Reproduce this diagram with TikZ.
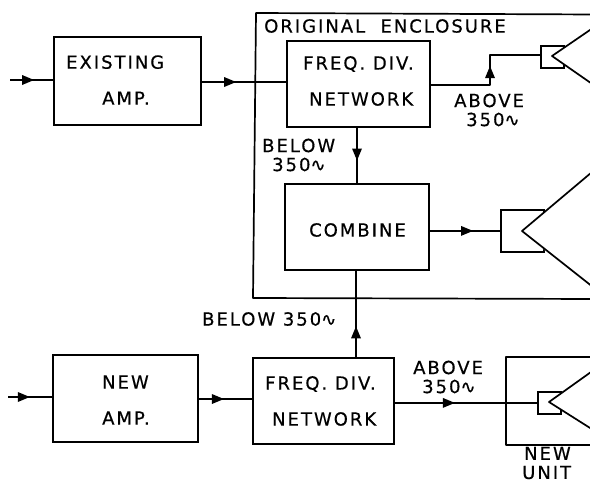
\documentclass[tikz,border=0pt]{standalone}
\usepackage{fontspec}
\setmainfont[LetterSpace=11,FakeBold=0.5]{DejaVu Sans}
\newfontfamily\symf[FakeBold=0.5]{DejaVu Sans}
\usetikzlibrary{decorations.markings}
\newcommand{\cyc}{{\symf\char"223F}}
\tikzset{
 x=1pt,y=-1pt,
 wire/.style={line width=1.7pt,line join=round},
 block/.style={draw,line width=1.8pt,inner sep=0pt,anchor=north west},
 lab/.style={font=\fontsize{18}{19}\selectfont,align=left,inner sep=0pt,anchor=west},
 blab/.style={font=\fontsize{18}{36}\selectfont,align=left,inner sep=0pt,anchor=west},
 tip/.style={postaction={decorate,decoration={markings,mark=at position #1 with {\fill (-6pt,-5pt) -- (6pt,0pt) -- (-6pt,5pt) -- cycle;}}}},
}
\begin{document}
\begin{tikzpicture}
\useasboundingbox (0,0) rectangle (590,482);
\clip (0,0) rectangle (590,482);
\fill[white] (0,0) rectangle (590,482);
\coordinate (eTR) at (596,14.5);
\coordinate (eTL) at (256,13);
\coordinate (eBL) at (253,298);
\coordinate (eBR) at (596,299);
\draw[wire] (eTR) -- (eTL) -- (eBL) -- (eBR);
\node[block,minimum width=147pt,minimum height=88pt] (amp1) at (53,36) {};
\node[block,minimum width=143pt,minimum height=86pt] (div1) at (286,40) {};
\node[block,minimum width=144pt,minimum height=86pt] (comb) at (284,183) {};
\node[block,minimum width=145pt,minimum height=87pt] (amp2) at (52,354) {};
\node[block,minimum width=141pt,minimum height=86pt] (div2) at (252,357) {};
\coordinate (nTR) at (596,357);
\coordinate (nTL) at (506,357);
\coordinate (nBL) at (506,445);
\coordinate (nBR) at (596,445);
\draw[wire] (nTR) -- (nTL) -- (nBL) -- (nBR);
\node[block,minimum width=23pt,minimum height=22pt] (spk1) at (540,45) {};
\node[block,minimum width=43pt,minimum height=42pt] (spk2) at (500,209) {};
\node[block,minimum width=23pt,minimum height=22pt] (spk3) at (537,391) {};
\fill[white] (552,56) -- (566,47) -- (566,65) -- cycle;
\fill[white] (522,231) -- (547,210) -- (547,252) -- cycle;
\fill[white] (549,402) -- (563,393) -- (563,411) -- cycle;
\coordinate (c1a) at (598,24.5); \coordinate (c1o) at (552,56); \coordinate (c1b) at (598,88);
\coordinate (c2a) at (598,167); \coordinate (c2o) at (522,231); \coordinate (c2b) at (598,291);
\coordinate (c3a) at (598,367); \coordinate (c3o) at (549,402); \coordinate (c3b) at (598,433);
\draw[wire] (c1a) -- (c1o) -- (c1b);
\draw[wire] (c2a) -- (c2o) -- (c2b);
\draw[wire] (c3a) -- (c3o) -- (c3b);
\coordinate (in1) at (10,80);
\coordinate (in2) at (8,397);
\draw[wire,tip=0.42] (in1) -- (in1 -| amp1.west);
\draw[wire,tip=0.36] (in2) -- (in2 -| amp2.west);
\coordinate (a1o) at (200,82);
\coordinate (a2o) at (197,399);
\draw[wire,tip=0.35] (a1o) -- (a1o -| div1.west);
\draw[wire,tip=0.38] (a2o) -- (a2o -| div2.west);
\coordinate (k1) at (490,85);
\coordinate (k2) at (490,55);
\draw[wire,tip=0.518] (div1.east |- k1) -- (k1) -- (k2) -- (spk1.west |- k2);
\coordinate (d1b) at (357,126);
\draw[wire,tip=0.5] (d1b) -- (d1b |- comb.north);
\coordinate (cb) at (356,269);
\draw[wire,tip=0.28] (cb |- div2.north) -- (cb);
\draw[wire,tip=0.53] (comb.east |- spk2.west) -- (spk2.west);
\draw[wire,tip=0.38] (div2.east |- spk3.west) -- (spk3.west);
\node[lab] (t0) at (264,26) {ORIGINAL\ \ ENCLOSURE};
\node[blab] (t1) at (66,80) {EXISTING\\\hspace*{36pt}AMP.};
\node[blab] (t2) at (303,81) {FREQ. DIV.\\\hspace*{6pt}NETWORK};
\node[lab] (t3) at (309,230) {COMBINE};
\node[blab] (t4) at (102,400) {NEW\\AMP.};
\node[blab] (t5) at (265,401) {FREQ. DIV.\\\hspace*{7pt}NETWORK};
\node[lab] (t6) at (454,110) {ABOVE\\\hspace*{12pt}350\cyc};
\node[lab] (t7) at (413,377) {ABOVE\\\hspace*{9pt}350\cyc};
\node[lab] (t8) at (262,155) {BELOW\\\hspace*{10pt}350\cyc};
\node[lab] (t9) at (202,319) {BELOW 350\cyc};
\node[lab] (t10) at (522,463) {\hspace*{2pt}NEW\\UNIT};
\end{tikzpicture}
\end{document}
